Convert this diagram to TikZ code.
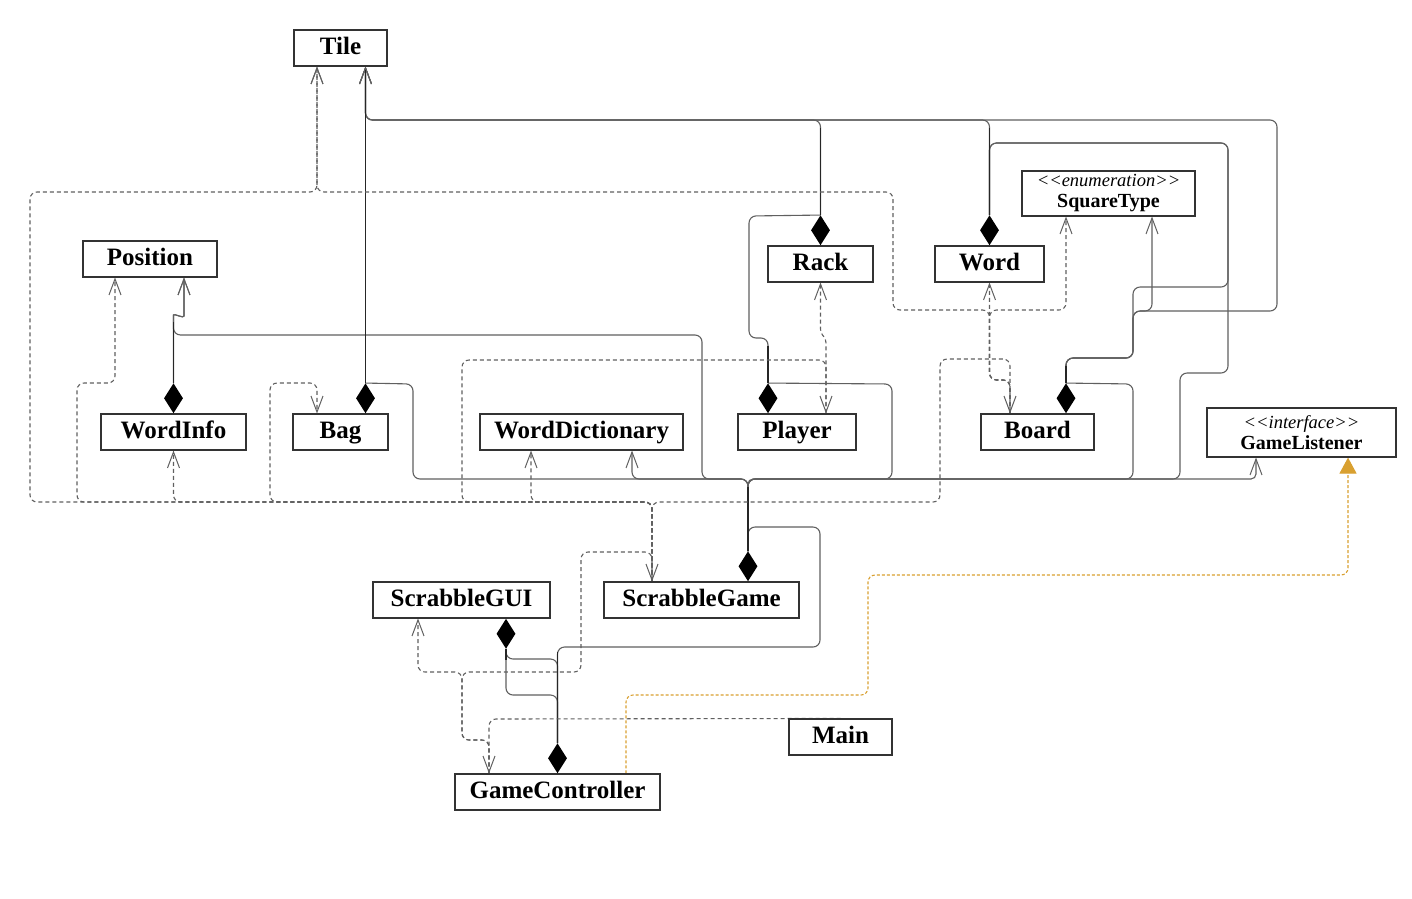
\documentclass[tikz,border=0pt]{standalone}
\usepackage{fontspec}
\setmainfont{Liberation Serif}
\usetikzlibrary{arrows.meta,shapes.geometric}
\pgfdeclarelayer{bg}
\pgfsetlayers{bg,main}
\definecolor{realcol}{HTML}{D9A030}
\definecolor{edgecol}{HTML}{606060}
\tikzset{
  cls/.style={draw=black!80, line width=1.1pt, fill=white, inner sep=0pt,
    text height=17pt, text depth=5pt, font=\fontsize{25}{25}\selectfont\bfseries},
  stereo/.style={draw=black!80, line width=1.1pt, fill=white, inner sep=0pt, align=center,
    font=\fontsize{20}{21}\selectfont},
  dmd/.style={diamond, fill=black, draw=none, inner sep=0pt,
    minimum width=19pt, minimum height=30pt},
  assoc/.style={draw=edgecol, line width=1.1pt, rounded corners=7pt},
  dep/.style={draw=edgecol, line width=1.1pt, rounded corners=7pt, dash pattern=on 4pt off 3pt},
  trunk/.style={draw=black!85, line width=1.8pt},
  opentip/.style={-{Straight Barb[length=16pt,width=12pt,line width=1pt]}},
  real/.style={draw=realcol, line width=1.1pt, rounded corners=7pt,
    dash pattern=on 3pt off 2pt, -{Triangle[length=16pt,width=17pt]}},
}
\newcommand{\stlabel}[2]{{\fontsize{18.5}{21}\selectfont\itshape <\kern0pt<#1>\kern0pt>}\\
  {\fontsize{20}{21}\selectfont\bfseries #2}}
\begin{document}
\begin{tikzpicture}[x=1pt,y=-1pt]
\useasboundingbox (0,0) rectangle (1412,898);
\begin{pgfonlayer}{bg}
  \fill[white] (0,0) rectangle (1412,898);
\end{pgfonlayer}

% classes
\node[cls,minimum width=93pt,minimum height=36pt] (Tile) at (340.5,48) {Tile};
\node[cls,minimum width=134pt,minimum height=36pt] (Position) at (150,259) {Position};
\node[cls,minimum width=105pt,minimum height=36pt] (Rack) at (820.5,264) {Rack};
\node[cls,minimum width=109pt,minimum height=36pt] (Word) at (989.5,264) {Word};
\node[stereo,minimum width=173pt,minimum height=45pt] (SquareType) at (1108.5,193.5)
  {\stlabel{enumeration}{SquareType}};
\node[cls,minimum width=145pt,minimum height=36pt] (WordInfo) at (173.5,432) {WordInfo};
\node[cls,minimum width=95pt,minimum height=36pt] (Bag) at (340.5,432) {Bag};
\node[cls,minimum width=203pt,minimum height=36pt] (WordDictionary) at (581.5,432) {WordDictionary};
\node[cls,minimum width=118pt,minimum height=36pt] (Player) at (797,432) {Player};
\node[cls,minimum width=113pt,minimum height=36pt] (Board) at (1037.5,432) {Board};
\node[stereo,minimum width=189pt,minimum height=49pt] (GameListener) at (1301.5,432.5)
  {\stlabel{interface}{GameListener}};
\node[cls,minimum width=177pt,minimum height=36pt] (ScrabbleGUI) at (461.5,600) {ScrabbleGUI};
\node[cls,minimum width=195pt,minimum height=36pt] (ScrabbleGame) at (701.5,600) {ScrabbleGame};
\node[cls,minimum width=103pt,minimum height=36pt] (Main) at (840.5,737) {Main};
\node[cls,minimum width=205pt,minimum height=36pt] (GameController) at (557.5,792) {GameController};

% composition diamonds
\node[dmd,anchor=south] (dWordInfo) at (WordInfo.north) {};
\node[dmd,anchor=south] (dBag) at ([xshift=25pt]Bag.north) {};
\node[dmd,anchor=south] (dRack) at (Rack.north) {};
\node[dmd,anchor=south] (dWord) at (Word.north) {};
\node[dmd,anchor=south] (dPlayer) at ([xshift=-29pt]Player.north) {};
\node[dmd,anchor=south] (dBoard) at ([xshift=28.5pt]Board.north) {};
\node[dmd,anchor=south] (dSG) at ([xshift=46.5pt]ScrabbleGame.north) {};
\node[dmd,anchor=south] (dGC) at (GameController.north) {};
\node[dmd,anchor=north] (dGUI) at ([xshift=44.5pt]ScrabbleGUI.south) {};

% ports
\coordinate (tileDep) at ([xshift=-23.5pt]Tile.south);
\coordinate (tileAs) at ([xshift=25pt]Tile.south);
\coordinate (posDep) at ([xshift=-35pt]Position.south);
\coordinate (posAs) at ([xshift=34pt]Position.south);
\coordinate (rackDep) at (Rack.south);
\coordinate (wordDep) at (Word.south);
\coordinate (sqDep) at ([xshift=-42.5pt]SquareType.south);
\coordinate (sqAs) at ([xshift=43.5pt]SquareType.south);
\coordinate (wiDep) at (WordInfo.south);
\coordinate (bagDep) at ([xshift=-23.5pt]Bag.north);
\coordinate (wdDep) at ([xshift=-50.5pt]WordDictionary.south);
\coordinate (wdAs) at ([xshift=50.5pt]WordDictionary.south);
\coordinate (plDep) at ([xshift=29pt]Player.north);
\coordinate (boDep) at ([xshift=-27.5pt]Board.north);
\coordinate (glAs) at ([xshift=-45.5pt]GameListener.south);
\coordinate (glReal) at ([xshift=46.5pt]GameListener.south);
\coordinate (guiDep) at ([xshift=-43.5pt]ScrabbleGUI.south);
\coordinate (sgDep) at ([xshift=-49.5pt]ScrabbleGame.north);
\coordinate (mainDep) at (Main.north);
\coordinate (gcDep) at ([xshift=-68.5pt]GameController.north);
\coordinate (gcReal) at ([xshift=68.5pt]GameController.north);

\begin{pgfonlayer}{bg}
% compositions towards Tile, Word, SquareType, Position
\draw[assoc,opentip] (dBag.north) -- (tileAs);
\draw[assoc,opentip] (dRack.north) -- (820.5,120) -- (365.5,120) -- (tileAs);
\draw[assoc,opentip] (dWord.north) -- (989.5,120) -- (365.5,120) -- (tileAs);
\draw[assoc,opentip] (dBoard.north) -- (1066,358) -- (1133,358) -- (1133,311) -- (1277,311)
  -- (1277,120) -- (365.5,120) -- (tileAs);
\draw[assoc,opentip] (dBoard.north) -- (1066,358) -- (1133,358) -- (1133,311) -- (1152,311) -- (sqAs);
\draw[assoc] (dBoard.north) -- (1066,358) -- (1133,358) -- (1133,287) -- (1228,287)
  -- (1228,143) -- (989.5,143) -- (dWord.north);
\draw[assoc,opentip] (dWordInfo.north) -- (173.5,322) .. controls (173.5,313) and (184,319) .. (184,309) -- (posAs);
\draw[assoc] (dRack.north) -- (749,216) -- (749,338) -- (768,338) -- (dPlayer.north);

% ScrabbleGame bus
\draw[assoc,opentip] (dSG.north) -- (748,479) -- (632,479) -- (wdAs);
\draw[assoc] (dSG.north) -- (748,479) -- (413,479) -- (413,384) -- (dBag.north);
\draw[assoc,opentip] (dSG.north) -- (748,479) -- (702,479) -- (702,335) -- (173.5,335) -- (173.5,322)
  .. controls (173.5,313) and (184,319) .. (184,309) -- (posAs);
\draw[assoc] (dSG.north) -- (748,479) -- (892,479) -- (892,384) -- (dPlayer.north);
\draw[assoc] (dSG.north) -- (748,479) -- (1133,479) -- (1133,384) -- (dBoard.north);
\draw[assoc] (dSG.north) -- (748,479) -- (1180,479) -- (1180,373) -- (1228,373) -- (1228,143)
  -- (989.5,143) -- (dWord.north);
\draw[assoc,opentip,rounded corners=5pt] (dSG.north) -- (748,479) -- (1256,479) -- (glAs);

% GameController and ScrabbleGUI compositions
\draw[assoc] (dGC.north) -- (557.5,647) -- (820,647) -- (820,527) -- (748,527) -- (dSG.north);
\draw[assoc] (dGUI.south) -- (506,695) -- (557.5,695) -- (dGC.north);
\draw[assoc] (dGUI.south) -- (506,659) -- (557.5,659) -- (dGC.north);

% shared trunks
\draw[trunk] (dBag.north) -- (365.5,70);
\draw[trunk] (dRack.north) -- (820.5,128);
\draw[trunk] (dWord.north) -- (989.5,128);
\draw[trunk] (dWordInfo.north) -- (173.5,322);
\draw[trunk] (dPlayer.north) -- (768,346);
\draw[trunk] (dBoard.north) -- (1066,366);
\draw[trunk] (dSG.north) -- (748,487);
\draw[trunk] (dGC.north) -- (557.5,652);
\draw[trunk] (dGUI.south) -- (506,660);

% dependencies
\draw[dep,opentip] (sgDep) -- (652,502) -- (30,502) -- (30,192) -- (317,192) -- (tileDep);
\draw[dep,opentip] (sgDep) -- (652,502) -- (270,502) -- (270,383) -- (317,383) -- (bagDep);
\draw[dep,opentip] (sgDep) -- (652,502) -- (77,502) -- (77,383) -- (115,383) -- (posDep);
\draw[dep,opentip] (sgDep) -- (652,502) -- (173.5,502) -- (wiDep);
\draw[dep,opentip] (sgDep) -- (652,502) -- (531,502) -- (wdDep);
\draw[dep,opentip] (sgDep) -- (652,502) -- (462,502) -- (462,360) -- (826,360) -- (plDep);
\draw[dep,opentip] (sgDep) -- (652,502) -- (940,502) -- (940,359) -- (1010,359) -- (boDep);
\draw[dep,opentip] (boDep) -- (1010,380) -- (989.5,380) -- (989.5,310) -- (893,310) -- (893,192)
  -- (317,192) -- (tileDep);
\draw[dep,opentip] (boDep) -- (1010,380) -- (989.5,380) -- (wordDep);
\draw[dep,opentip] (boDep) -- (1010,380) -- (989.5,380) -- (989.5,310) -- (1066,310) -- (sqDep);
\draw[dep,opentip,rounded corners=3pt] (plDep) -- (826,340) -- (820.5,332) -- (rackDep);
\draw[dep,opentip] (gcDep) -- (489,740) -- (462,740) -- (462,672) -- (581,672) -- (581,552)
  -- (652,552) -- (sgDep);
\draw[dep,opentip] (gcDep) -- (489,740) -- (462,740) -- (462,672) -- (418,672) -- (guiDep);
\draw[dep,opentip] (mainDep) -- (489,719) -- (gcDep);

% realization
\draw[real] (gcReal) -- (626,695) -- (868,695) -- (868,575) -- (1348,575) -- (glReal);
\end{pgfonlayer}
\end{tikzpicture}
\end{document}
